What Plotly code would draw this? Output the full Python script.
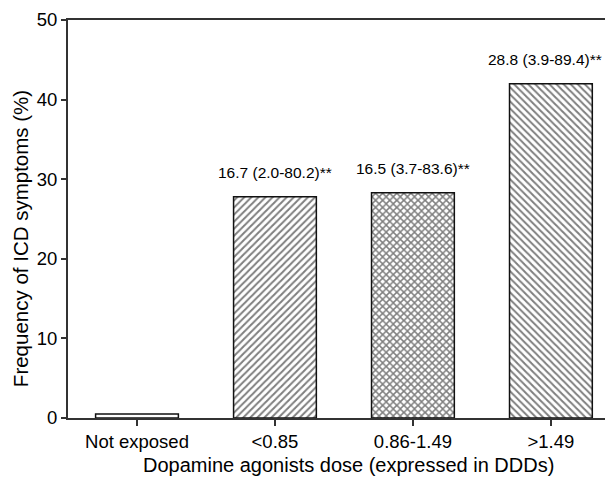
import plotly.graph_objects as go

categories = ["Not exposed", "<0.85", "0.86-1.49", ">1.49"]
values = [0.5, 27.8, 28.3, 42.0]
labels = ["", "16.7 (2.0-80.2)**", "16.5 (3.7-83.6)**", "28.8 (3.9-89.4)**"]
patterns = ["", "/", "x", "\\"]
y_ticks = [0, 10, 20, 30, 40, 50]

FONT = "Liberation Sans, Arial, sans-serif"
label_xshift = [0, 0, 0, -6]

fig = go.Figure()
fig.add_trace(go.Bar(
    x=categories, y=values, width=0.6,
    marker=dict(
        color="white",
        line=dict(color="#111", width=1.5),
        pattern=dict(shape=patterns, fgcolor="black", bgcolor="white",
                     size=5, solidity=[0.4, 0.4, 0.5, 0.4], fillmode="overlay"),
    ),
    showlegend=False, hoverinfo="skip",
))

for c, v, t, xs in zip(categories, values, labels, label_xshift):
    if t:
        fig.add_annotation(x=c, y=v, text=t, showarrow=False, yanchor="bottom",
                           yshift=14, xshift=xs, font=dict(family=FONT, size=15.5, color="black"))

fig.add_annotation(x=1.53, y=0, xref="x", yref="paper", yanchor="middle", yshift=-47,
                   text="Dopamine agonists dose (expressed in DDDs)", showarrow=False,
                   font=dict(family=FONT, size=20, color="black"))
fig.add_annotation(x=0, y=0.472, xref="paper", yref="paper", xanchor="center", yanchor="middle",
                   xshift=-48, yshift=-9, textangle=-90,
                   text="Frequency of ICD symptoms (%)", showarrow=False,
                   font=dict(family=FONT, size=20.5, color="black"))

fig.update_layout(
    width=605, height=471,
    margin=dict(l=60, r=0, t=12, b=61),
    paper_bgcolor="white", plot_bgcolor="white",
    font=dict(family=FONT, size=18, color="black"),
)
fig.update_xaxes(
    range=[-0.5, 3.45], showline=True, linecolor="#333", linewidth=2, mirror=True,
    ticks="outside", ticklen=6, tickcolor="#333", tickwidth=1.5,
    showgrid=False, tickfont=dict(size=18.5),
)
fig.update_yaxes(
    range=[0, 50], tickvals=y_ticks, showline=True, linecolor="#333", linewidth=2,
    ticks="outside", ticklen=5, tickcolor="#333", tickwidth=1.5,
    showgrid=False, zeroline=False, tickfont=dict(size=18.5),
)
fig.write_html("out.html")
